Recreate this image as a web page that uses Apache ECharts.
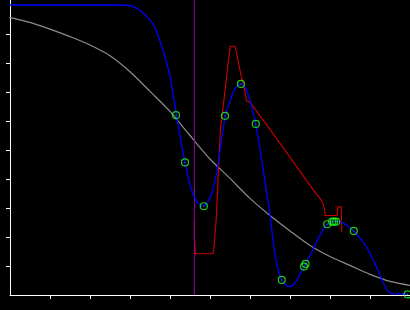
<!DOCTYPE html>
<html>
<head>
<meta charset="utf-8">
<script src="https://cdn.jsdelivr.net/npm/echarts@6/dist/echarts.min.js"></script>
<style>html,body{margin:0;padding:0;background:#000;}#c{width:410px;height:310px;}</style>
</head>
<body>
<div id="c"></div>
<script>
// Gray smooth curve
const grayX = [-0.26, 0, 0.5, 1, 1.5, 2, 2.5, 3, 3.5, 4, 4.5, 5, 5.5, 6, 6.5, 7, 7.5, 8, 8.5, 9, 9.5, 10];
const grayY = [9.64, 9.57, 9.40, 9.17, 8.91, 8.62, 8.25, 7.70, 7.02, 6.33, 5.50, 4.69, 4.02, 3.33, 2.74, 2.21, 1.71, 1.33, 1.02, 0.71, 0.47, 0.33];
// Blue fitted curve
const blueX = [0, 2.7, 3.0, 3.2, 3.4, 3.6, 3.8, 3.9, 4.0, 4.1, 4.2, 4.3, 4.4, 4.5, 4.6, 4.7, 4.8, 4.9, 5.0, 5.1, 5.2, 5.3, 5.4, 5.5, 5.6, 5.7, 5.8, 5.9, 6.0, 6.1, 6.2, 6.3, 6.4, 6.5, 6.6, 6.7, 6.8, 6.9, 7.0, 7.1, 7.2, 7.3, 7.4, 7.5, 7.6, 7.7, 7.8, 7.9, 8.0, 8.1, 8.2, 8.3, 8.4, 8.5, 8.6, 8.7, 8.8, 8.9, 9.0, 9.1, 9.2, 9.3, 9.4, 9.5, 9.6, 9.95];
const blueY = [10, 10, 9.98, 9.86, 9.62, 9.28, 8.55, 8.08, 7.55, 6.72, 5.90, 5.10, 4.40, 3.80, 3.40, 3.17, 3.07, 3.12, 3.35, 3.78, 4.50, 5.45, 6.28, 6.68, 7.05, 7.23, 7.27, 7.10, 6.72, 6.15, 5.45, 4.60, 3.68, 2.77, 1.65, 0.88, 0.51, 0.34, 0.29, 0.38, 0.58, 0.83, 1.10, 1.36, 1.65, 1.92, 2.18, 2.40, 2.50, 2.53, 2.53, 2.50, 2.42, 2.32, 2.20, 2.05, 1.88, 1.69, 1.43, 1.15, 0.85, 0.52, 0.22, 0.08, 0.04, 0.04];
// Red piecewise line
const redX = [4.61, 4.61, 4.635, 4.635, 5.07, 5.095, 5.155, 5.26, 5.32, 5.38, 5.445, 5.51, 5.63, 5.695, 5.78, 5.86, 5.92, 6.0, 6.82, 7.57, 7.74, 7.82, 7.86, 7.88, 8.18, 8.195, 8.28, 8.295];
const redY = [2.55, 1.99, 1.98, 1.42, 1.42, 1.60, 2.60, 5.71, 6.40, 7.09, 7.89, 8.58, 8.58, 8.12, 7.55, 7.09, 6.68, 6.65, 5.10, 3.64, 3.35, 3.18, 2.95, 2.74, 2.74, 3.04, 3.04, 2.17];
// Green sample points
const ptX = [4.15, 4.375, 4.845, 5.375, 5.775, 6.145, 6.795, 7.35, 7.39, 7.93, 8.055, 8.10, 8.155, 8.595, 9.94];
const ptY = [6.20, 4.57, 3.06, 6.18, 7.28, 5.90, 0.52, 0.98, 1.07, 2.44, 2.53, 2.53, 2.53, 2.21, 0.02];
// Purple vertical marker
const markX = [4.61, 4.61];
const markY = [0, 10.17];
// Tick ranges (ticks at every integer inside)
const xTicks = [1, 9];
const yTicks = [1, 9];

const zip = (a, b) => a.map((v, i) => [v, b[i]]);

const chart = echarts.init(document.getElementById('c'), null, {renderer: 'canvas'});
const white = '#ffffff';
chart.setOption({
  backgroundColor: '#000000',
  animation: false,
  grid: [
    {left: 10, top: 0, width: 400, height: 295},
    {left: 50, top: 0, width: 320, height: 295},
    {left: 10, top: 34, width: 400, height: 232}
  ],
  xAxis: [
    {gridIndex: 0, type: 'value', min: 0, max: 10, axisLine: {lineStyle: {color: white, width: 1}}, axisTick: {show: false}, axisLabel: {show: false}, splitLine: {show: false}},
    {gridIndex: 1, type: 'value', min: xTicks[0], max: xTicks[1], interval: 1, axisLine: {show: false}, axisTick: {show: true, length: 4, lineStyle: {color: white}}, axisLabel: {show: false}, splitLine: {show: false}},
    {gridIndex: 2, type: 'value', min: 0, max: 10, show: false}
  ],
  yAxis: [
    {gridIndex: 0, type: 'value', min: 0, max: 295/29, axisLine: {show: true, lineStyle: {color: white, width: 1}}, axisTick: {show: false}, axisLabel: {show: false}, splitLine: {show: false}},
    {gridIndex: 1, type: 'value', min: 0, max: 10, show: false},
    {gridIndex: 2, type: 'value', min: yTicks[0], max: yTicks[1], interval: 1, axisLine: {show: false}, axisTick: {show: true, length: 4, lineStyle: {color: white}}, axisLabel: {show: false}, splitLine: {show: false}}
  ],
  series: [
    {type: 'line', data: zip(grayX, grayY), smooth: 0.3, showSymbol: false, clip: false, lineStyle: {color: '#8c8c8c', width: 1.2}, z: 2},
    {type: 'line', data: zip(redX, redY), showSymbol: false, lineStyle: {color: '#cc0000', width: 1.1}, z: 3},
    {type: 'line', data: zip(markX, markY), showSymbol: false, clip: false, lineStyle: {color: '#a000a0', width: 1}, z: 4},
    {type: 'line', data: zip(blueX, blueY), smooth: 0.3, showSymbol: false, lineStyle: {color: '#0000ff', width: 1.3}, z: 5},
    {type: 'scatter', data: zip(ptX, ptY), symbol: 'circle', symbolSize: 7, clip: false, itemStyle: {color: 'rgba(0,0,0,0)', borderColor: '#22ff22', borderWidth: 1.2}, z: 6},
    {type: 'scatter', data: zip(ptX, ptY), symbol: 'circle', symbolSize: 1, clip: false, itemStyle: {color: '#22ff22'}, z: 7}
  ]
});
</script>
</body>
</html>
